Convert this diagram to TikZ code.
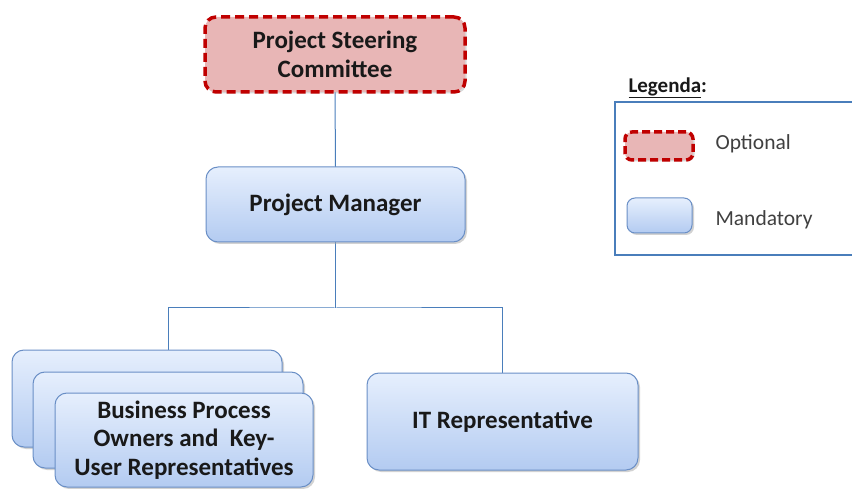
\documentclass[tikz,border=0pt]{standalone}
\usepackage{fontspec}
\setmainfont{Carlito}
\usetikzlibrary{shadows}
\definecolor{optfill}{HTML}{E8B6B6}
\definecolor{optline}{HTML}{C00000}
\definecolor{mantop}{HTML}{E6EFFD}
\definecolor{manbot}{HTML}{B3CBF1}
\definecolor{manline}{HTML}{6A8FC6}
\definecolor{linkcol}{HTML}{4A7EBB}
\definecolor{legtext}{HTML}{404040}
\tikzset{
  optbox/.style={draw=optline, line width=3.5pt, dash pattern=on 9pt off 5pt,
    fill=optfill, rounded corners=11pt,
    drop shadow={shadow xshift=1.5pt, shadow yshift=-1.5pt, fill=black!30}},
  manbox/.style={draw=manline, line width=1pt, top color=mantop, bottom color=manbot,
    rounded corners=12pt,
    drop shadow={shadow xshift=2pt, shadow yshift=-2pt, fill=black!35}},
  lbl/.style={font=\bfseries\fontsize{25}{28.5}\selectfont, text=black!90, align=center},
  link/.style={draw=linkcol, line width=1pt},
  legtxt/.style={font=\fontsize{21.5}{24}\selectfont, text=legtext, anchor=west}
}
\begin{document}
\begin{tikzpicture}[x=1pt,y=-1pt]
\useasboundingbox (0,0) rectangle (852,489);
\clip (0,0) rectangle (852,489);

% box centres
\coordinate (psc-c) at (335,54.5);
\coordinate (pm-c) at (335.5,204.5);
\coordinate (bus) at (335.5,308);

% outlines used to route the connectors (drawn first, boxes go over them)
\node[minimum width=260pt, minimum height=75pt, inner sep=0pt] (psc) at (psc-c) {};
\node[minimum width=259pt, minimum height=75pt, inner sep=0pt] (pm) at (pm-c) {};
\node[minimum width=270pt, minimum height=97pt, inner sep=0pt] (bpo3) at (147,398.5) {};
\node[minimum width=270pt, minimum height=96pt, inner sep=0pt] (bpo2) at (168,420) {};
\node[minimum width=271pt, minimum height=97pt, inner sep=0pt] (it) at (502.5,421.5) {};
\draw[link] (psc.south) -- (pm.north);
\draw[link] (pm.south) -- (bus);
\draw[link] (bpo2.north |- bpo3.north) |- (bus) -| (it.north);

% boxes
\node[optbox, lbl, minimum width=260pt, minimum height=75pt] at (psc-c) {Project Steering\\Committee};
\node[manbox, lbl, minimum width=259pt, minimum height=75pt] at (pm-c) {Project Manager};
\node[manbox, minimum width=270pt, minimum height=97pt] at (147,398.5) {};
\node[manbox, minimum width=270pt, minimum height=96pt] at (168,420) {};
\node[manbox, lbl, minimum width=258pt, minimum height=94pt] (bpo1) at (184,440)
  {Business Process\\Owners and \ Key-\\User Representatives};
\node[manbox, lbl, minimum width=271pt, minimum height=97pt] at (502.5,421.5) {IT Representative};

% legend
\node[font=\bfseries\fontsize{21}{24}\selectfont, text=black!90, anchor=west] (legtitle) at (625,88) {\underline{Legenda}:};
\draw[draw=linkcol, line width=1.5pt, fill=white] (615,102) rectangle (880,255);
\node[optbox, minimum width=68pt, minimum height=28pt, rounded corners=7pt,
  line width=3.5pt, dash pattern=on 8pt off 4pt] (legopt) at (659,146) {};
\node[manbox, minimum width=65pt, minimum height=35pt, rounded corners=8pt] (legman) at (659.5,215.5) {};
\node[legtxt] (optlbl) at (712,144) {Optional};
\node[legtxt] (manlbl) at (712,220) {Mandatory};
\end{tikzpicture}
\end{document}
